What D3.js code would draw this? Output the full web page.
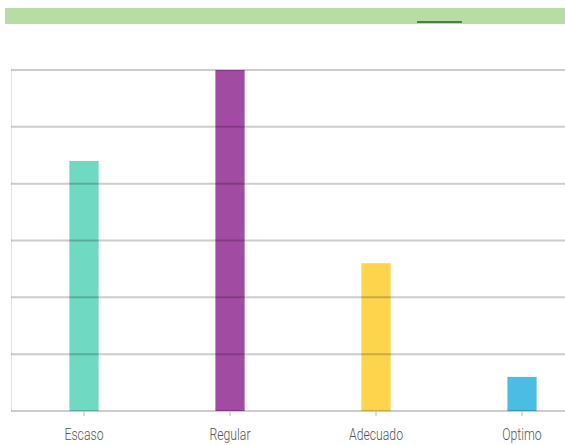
<!DOCTYPE html>
<html>
<head>
<meta charset="utf-8">
<script src="https://cdn.jsdelivr.net/npm/d3@7"></script>
<style>
  body { margin: 0; background: #fff; }
  svg { display: block; }
</style>
</head>
<body>
<svg id="chart" width="565" height="445"></svg>
<script>
// categories and counts
const categories = ["Escaso", "Regular", "Adecuado", "Optimo"];
const values = [22, 30, 13, 3];
const colors = ["#6fd9c1", "#a24ba2", "#fdd54d", "#4bbce3"];
const yTicks = [0, 5, 10, 15, 20, 25, 30];

const svg = d3.select("#chart");
const W = 565, H = 445;
const plotLeft = 11, plotTop = 70, plotBottom = 411;

// header band
svg.append("rect").attr("x", 5).attr("y", 8).attr("width", W - 5).attr("height", 16)
  .attr("fill", "#b9dca6");
svg.append("line").attr("x1", 417).attr("x2", 462).attr("y1", 22).attr("y2", 22)
  .attr("stroke", "#3a8a3a").attr("stroke-width", 2);

const x = d3.scaleBand().domain(categories).range([plotLeft, plotLeft + 4 * 146])
  .paddingInner(0.8).paddingOuter(0.4);
const y = d3.scaleLinear().domain([0, 30]).range([plotBottom, plotTop]);

// left axis line
svg.append("line").attr("x1", plotLeft + 0.5).attr("x2", plotLeft + 0.5)
  .attr("y1", plotTop).attr("y2", plotBottom).attr("stroke", "#e4e4e4");

// bars
svg.selectAll("rect.bar").data(categories).join("rect").attr("class", "bar")
  .attr("x", d => x(d)).attr("width", x.bandwidth())
  .attr("y", (d, i) => y(values[i])).attr("height", (d, i) => y(0) - y(values[i]))
  .attr("fill", (d, i) => colors[i]);

// gridlines over the bars
svg.selectAll("line.grid").data(yTicks).join("line").attr("class", "grid")
  .attr("x1", plotLeft).attr("x2", W).attr("y1", d => y(d)).attr("y2", d => y(d))
  .attr("stroke", "rgba(0,0,0,0.2)").attr("stroke-width", 2);

// bottom axis ticks and labels
const xAxis = svg.append("g").attr("transform", `translate(0,${plotBottom})`);
xAxis.selectAll("line").data(categories).join("line")
  .attr("x1", d => x(d) + x.bandwidth() / 2).attr("x2", d => x(d) + x.bandwidth() / 2)
  .attr("y1", 1).attr("y2", 5).attr("stroke", "#bbb");
xAxis.selectAll("text").data(categories).join("text")
  .attr("transform", d => `translate(${x(d) + x.bandwidth() / 2},29) scale(0.72,1)`)
  .attr("text-anchor", "middle")
  .attr("font-family", "Roboto, 'DejaVu Sans Condensed', sans-serif")
  .attr("font-weight", 300)
  .attr("font-size", 17).attr("fill", "#555")
  .text(d => d);
</script>
</body>
</html>
